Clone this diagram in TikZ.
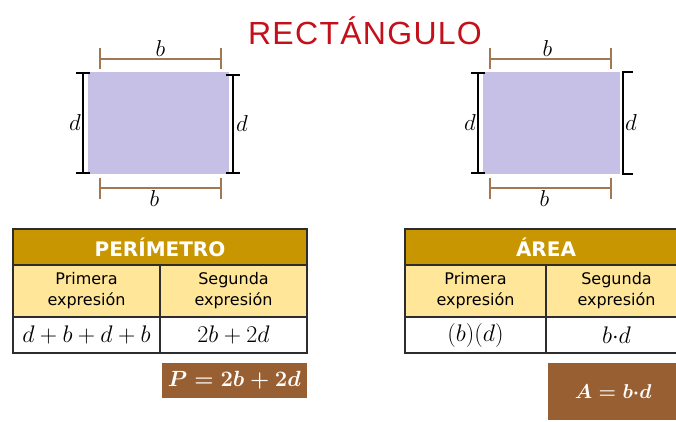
\RequirePackage{fix-cm}
\documentclass[tikz,border=0pt]{standalone}
\usepackage{fontspec}
\setmainfont{DejaVu Sans}
\newfontfamily\titlefont{Liberation Sans}[LetterSpace=4]
\usetikzlibrary{arrows.meta, positioning}
\definecolor{figfill}{RGB}{198,191,230}
\definecolor{barbrown}{RGB}{160,120,84}
\definecolor{headgold}{RGB}{200,150,0}
\definecolor{subyellow}{RGB}{255,230,153}
\definecolor{resbrown}{RGB}{152,96,50}
\definecolor{titlered}{RGB}{196,16,26}
\definecolor{gridgray}{RGB}{45,45,45}
\tikzset{
  figure/.style={
    rectangle, fill=figfill, inner sep=0pt,
    minimum width=141pt, minimum height=102pt
  },
  dimb/.style={{Bar[width=21pt]}-{Bar[width=21pt]}, draw=barbrown, line width=2pt},
  dimd/.style={{Bar[width=14pt]}-{Bar[width=14pt]}, draw=black, line width=2pt},
  bracket/.style={draw=black, line width=2pt},
  lbl/.style={font=\fontsize{23}{23}\selectfont, inner sep=1pt}
}
\tikzset{
  cell/.style={
    draw=gridgray, rectangle, line width=1.5pt,
    inner sep=1pt, outer sep=0pt, align=center
  },
  headcell/.style={
    cell, fill=headgold, text=white, minimum height=36pt,
    font=\bfseries\fontsize{20}{20}\selectfont
  },
  subcell/.style={
    cell, fill=subyellow, minimum height=52pt,
    font=\fontsize{16}{21}\selectfont
  },
  valcell/.style={
    cell, fill=white, minimum height=36pt,
    font=\fontsize{24}{24}\selectfont
  },
  result/.style={
    rectangle, fill=resbrown, text=white, inner sep=1pt,
    font=\boldmath\fontsize{22}{22}\selectfont
  }
}
\begin{document}
\begin{tikzpicture}[x=1pt, y=1pt]
  \useasboundingbox[fill=white] (0,0) rectangle (676,-422);

  \node[font=\titlefont\fontsize{32}{32}\selectfont, text=titlered] (title) at (365,-31) {RECTÁNGULO};

  % figure for the perimeter
  \node[figure] (rectL) at (158.5,-123) {};
  \draw[dimb] ([xshift=11pt,yshift=13pt]rectL.north west) --
    node[lbl, above=0pt] {$b$} ([xshift=-7pt,yshift=13pt]rectL.north east);
  \draw[dimb] ([xshift=11pt,yshift=-14pt]rectL.south west) --
    node[lbl, below=0pt, xshift=-6pt] {$b$} ([xshift=-7pt,yshift=-14pt]rectL.south east);
  \draw[dimd] ([xshift=-5pt]rectL.north west) --
    node[lbl, left=0pt] {$d$} ([xshift=-5pt]rectL.south west);
  \draw[dimd] ([xshift=4pt,yshift=-2pt]rectL.north east) --
    node[lbl, right=1pt] {$d$} ([xshift=4pt]rectL.south east);

  % figure for the area
  \node[figure, minimum width=137pt] (rectR) at (551.5,-123) {};
  \draw[dimb] ([xshift=6pt,yshift=13pt]rectR.north west) --
    node[lbl, above=0pt, xshift=-3pt] {$b$} ([xshift=-8pt,yshift=13pt]rectR.north east);
  \draw[dimb] ([xshift=6pt,yshift=-14pt]rectR.south west) --
    node[lbl, below=0pt, xshift=-6pt] {$b$} ([xshift=-8pt,yshift=-14pt]rectR.south east);
  \draw[dimd] ([xshift=-5pt]rectR.north west) --
    node[lbl, left=0pt] {$d$} ([xshift=-5pt]rectR.south west);
  \draw[bracket] ([xshift=13pt]rectR.north east) -- ([xshift=3pt]rectR.north east) --
    node[lbl, right=0pt] {$d$} ([xshift=3pt]rectR.south east) -- ([xshift=13pt]rectR.south east);

  % perimeter table
  \node[headcell, minimum width=294pt] (perHead) at (160,-247) {PERÍMETRO};
  \node[subcell, minimum width=147pt, anchor=north west] (perSubA) at (perHead.south west) {Primera\\expresión};
  \node[subcell, minimum width=147pt, anchor=north east] (perSubB) at (perHead.south east) {Segunda\\expresión};
  \node[valcell, minimum width=147pt, anchor=north west] (perValA) at (perSubA.south west) {$d+b+d+b$};
  \node[valcell, minimum width=147pt, anchor=north west] (perValB) at (perSubB.south west) {$2b+2d$};
  \node[result, minimum width=145pt, minimum height=35pt, anchor=north east] (perRes)
    at ([yshift=-10pt]perValB.south east) {$P=2b+2d$};

  % area table
  \node[headcell, minimum width=282pt] (areaHead) at (546,-247) {ÁREA};
  \node[subcell, minimum width=141pt, anchor=north west] (areaSubA) at (areaHead.south west) {Primera\\expresión};
  \node[subcell, minimum width=141pt, anchor=north east] (areaSubB) at (areaHead.south east) {Segunda\\expresión};
  \node[valcell, minimum width=141pt, anchor=north west] (areaValA) at (areaSubA.south west) {$(b)(d)$};
  \node[valcell, minimum width=141pt, anchor=north west] (areaValB) at (areaSubB.south west) {$b{\cdot}d$};
  \node[result, minimum width=130pt, minimum height=57pt, anchor=north west,
    font=\boldmath\fontsize{20}{20}\selectfont] (areaRes)
    at ([xshift=2pt,yshift=-10pt]areaValB.south west) {$A=b{\cdot}d$};
\end{tikzpicture}
\end{document}
